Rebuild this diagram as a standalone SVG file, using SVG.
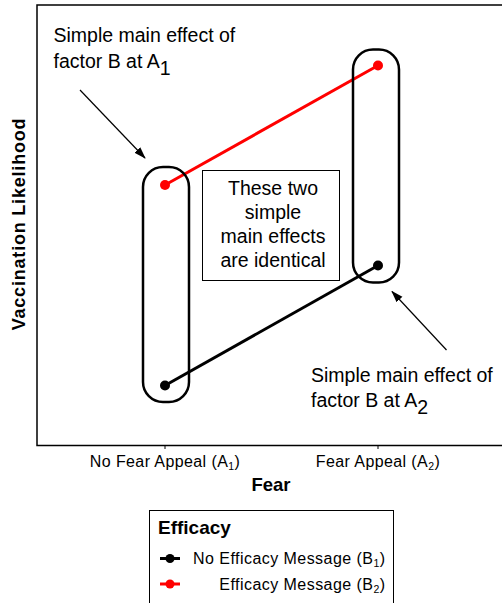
<svg xmlns="http://www.w3.org/2000/svg" width="502" height="603" viewBox="0 0 502 603">
<style>
text{font-family:"Liberation Sans",Arial,sans-serif;fill:#000}
.ann{font-size:19.5px}
.box{font-size:19.5px}
.tick{font-size:16px;letter-spacing:0.4px}
.leg{font-size:16px;letter-spacing:0.45px}
.b{font-weight:bold}
.grp{fill:none;stroke:#000;stroke-width:2.5}
</style>
<defs>
<marker id="ah" markerWidth="12" markerHeight="10" refX="11" refY="5" orient="auto" markerUnits="userSpaceOnUse">
<path d="M0,1 L12,5 L0,9 Z" fill="#000"/>
</marker>
</defs>
<rect width="502" height="603" fill="#fff"/>
<g id="frame">
<path d="M510,5 H37 V445.5 H510" fill="none" stroke="#000" stroke-width="1.5"/>
<line x1="165" y1="445.5" x2="165" y2="449" stroke="#000" stroke-width="1"/>
<line x1="378" y1="445.5" x2="378" y2="449" stroke="#000" stroke-width="1"/>
</g>
<g id="connectors">
<line x1="165" y1="185" x2="378" y2="65.5" stroke="#f00" stroke-width="3"/>
<line x1="165" y1="385.5" x2="378" y2="265.5" stroke="#000" stroke-width="3"/>
<line x1="80" y1="90" x2="145" y2="158" stroke="#000" stroke-width="1.2" marker-end="url(#ah)"/>
<line x1="446.5" y1="350" x2="392" y2="291.5" stroke="#000" stroke-width="1.2" marker-end="url(#ah)"/>
</g>
<g id="groupA1"><rect class="grp" x="143" y="167" width="46" height="235" rx="20"/></g>
<g id="groupA2"><rect class="grp" x="353" y="49.5" width="46" height="233" rx="20"/></g>
<g id="points">
<circle cx="165" cy="185" r="5" fill="#f00"/>
<circle cx="378" cy="65.5" r="5" fill="#f00"/>
<circle cx="165" cy="385.5" r="5" fill="#000"/>
<circle cx="378" cy="265.5" r="5" fill="#000"/>
</g>
<g id="noteBox">
<rect x="202.5" y="170.5" width="137" height="110" fill="#fff" stroke="#000" stroke-width="1"/>
<text class="box" text-anchor="middle" x="273" y="195">These two</text>
<text class="box" text-anchor="middle" x="273" y="219">simple</text>
<text class="box" text-anchor="middle" x="273" y="243">main effects</text>
<text class="box" text-anchor="middle" x="273" y="267">are identical</text>
</g>
<g id="annA1">
<text class="ann" x="53.5" y="42">Simple main effect of</text>
<text class="ann" x="53.5" y="68">factor B at A<tspan dy="7">1</tspan></text>
</g>
<g id="annA2">
<text class="ann" x="311" y="382">Simple main effect of</text>
<text class="ann" x="311" y="407">factor B at A<tspan dy="7">2</tspan></text>
</g>
<g id="axes">
<text class="tick" text-anchor="middle" x="165" y="467">No Fear Appeal (A<tspan font-size="10.5px" dy="2.5">1</tspan><tspan dy="-2.5">)</tspan></text>
<text class="tick" text-anchor="middle" x="378" y="467">Fear Appeal (A<tspan font-size="10.5px" dy="2.5">2</tspan><tspan dy="-2.5">)</tspan></text>
<text class="b" font-size="18.5px" text-anchor="middle" x="271" y="490.5">Fear</text>
<text class="b" font-size="18px" letter-spacing="0.8px" text-anchor="middle" transform="translate(25,224) rotate(-90)">Vaccination Likelihood</text>
</g>
<g id="legend">
<rect x="149.5" y="510.5" width="244" height="110" fill="#fff" stroke="#000" stroke-width="1"/>
<text class="b" font-size="19px" x="158" y="534.3">Efficacy</text>
<line x1="160" y1="558.5" x2="180" y2="558.5" stroke="#000" stroke-width="3"/>
<circle cx="170" cy="558.5" r="4.5" fill="#000"/>
<text class="leg" text-anchor="end" x="385.5" y="564">No Efficacy Message (B<tspan font-size="10.5px" dy="2.5">1</tspan><tspan dy="-2.5">)</tspan></text>
<line x1="160" y1="584" x2="180" y2="584" stroke="#f00" stroke-width="3"/>
<circle cx="170" cy="584" r="4.5" fill="#f00"/>
<text class="leg" text-anchor="end" x="385.5" y="590">Efficacy Message (B<tspan font-size="10.5px" dy="2.5">2</tspan><tspan dy="-2.5">)</tspan></text>
</g>
</svg>
